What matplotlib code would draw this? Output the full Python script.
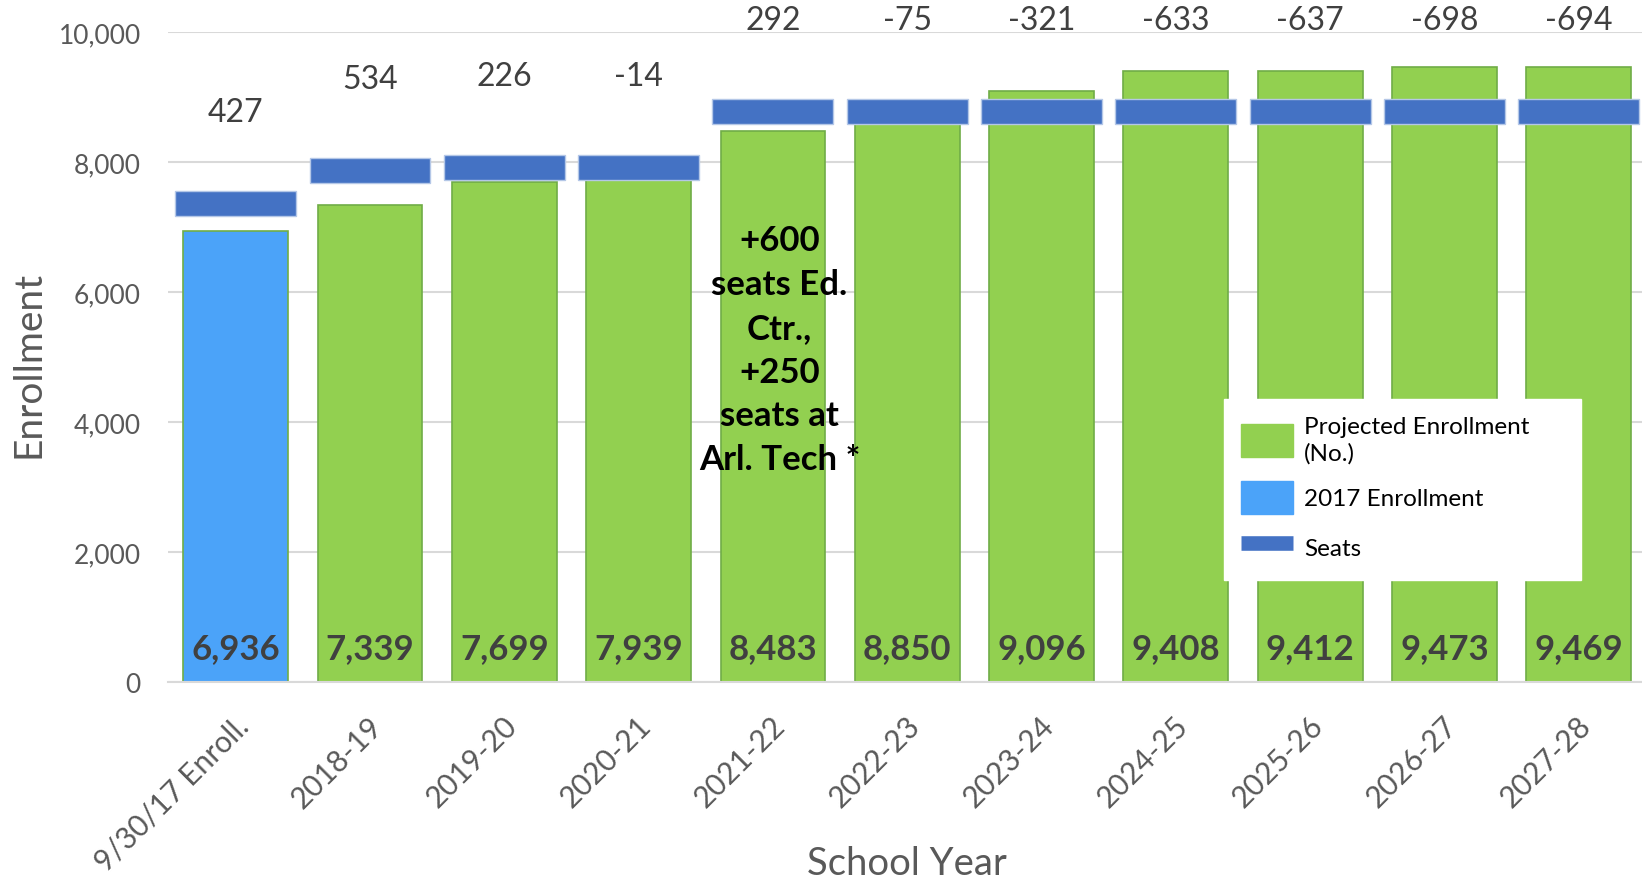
import numpy as np
import matplotlib.pyplot as plt
import matplotlib.transforms as mtransforms
from matplotlib.patches import Patch
from matplotlib.lines import Line2D

plt.rcParams['font.family'] = ['Lato', 'DejaVu Sans']

# === Data ===
years = ["9/30/17 Enroll.", "2018-19", "2019-20", "2020-21", "2021-22", "2022-23",
         "2023-24", "2024-25", "2025-26", "2026-27", "2027-28"]
enrollment = [6936, 7339, 7699, 7939, 8483, 8850, 9096, 9408, 9412, 9473, 9469]
gap = [427, 534, 226, -14, 292, -75, -321, -633, -637, -698, -694]
seats = [e + g for e, g in zip(enrollment, gap)]
note = "+600\nseats Ed.\nCtr.,\n+250\nseats at\nArl. Tech *"

GREEN = '#92D050'
GREEN_EDGE = '#70AD47'
BLUE = '#4BA3F9'
SEAT_BLUE = '#4472C4'
SEAT_EDGE = '#B4C7E7'
SEAT_THICK = 385  # thickness of the seat marker in data units

fig = plt.figure(figsize=(16.42, 8.79), dpi=100)
ax = fig.add_axes([0.1026, 0.2230, 0.8998, 0.7390])

x = np.arange(len(years))
colors = [BLUE] + [GREEN] * (len(years) - 1)
ax.bar(x, enrollment, width=0.78, color=colors, edgecolor=GREEN_EDGE, linewidth=1.2, zorder=2)

# seats drawn as thick flat markers
ax.bar(x, [SEAT_THICK] * len(x), bottom=np.array(seats) - SEAT_THICK / 2, width=0.9,
       color=SEAT_BLUE, edgecolor=SEAT_EDGE, linewidth=1, zorder=3)

# labels
for xi, e, s, g in zip(x, enrollment, seats, gap):
    ax.annotate(f"{e:,}", (xi, 0), xytext=(0, 24.5), textcoords='offset points',
                ha='center', va='center', fontsize=25, fontweight='bold', color='#404040', zorder=4)
    ax.annotate(f"{g}", (xi, s), xytext=(0, 66), textcoords='offset points',
                ha='center', va='center', fontsize=23, color='#404040', annotation_clip=False)

ax.text(x[4] + 0.05, 5116, note, ha='center', va='center', fontsize=25, fontweight='bold',
        color='black', linespacing=1.45, zorder=5)

ax.set_xlim(-0.5, len(years) - 0.5)
ax.set_ylim(0, 10000)
ax.set_yticks(np.arange(0, 10001, 2000))
ax.set_yticklabels([f"{v:,}" for v in range(0, 10001, 2000)])
ax.yaxis.grid(True, color='#D9D9D9', linewidth=1.5, zorder=0)
ax.set_axisbelow(True)
for sp in ['top', 'right', 'left']:
    ax.spines[sp].set_visible(False)
ax.spines['bottom'].set_color('#D9D9D9')
ax.spines['bottom'].set_linewidth(1.5)
ax.tick_params(axis='both', length=0, labelcolor='#595959')
ax.tick_params(axis='y', pad=20, labelsize=19)
ax.set_xticks(x)
ax.set_xticklabels(years, rotation=45, ha='right', va='center', rotation_mode='anchor')
ax.tick_params(axis='x', pad=28, labelsize=21.5)
shift = mtransforms.ScaledTranslation(8 / 100, 0, fig.dpi_scale_trans)
for lab in ax.get_xticklabels():
    lab.set_transform(lab.get_transform() + shift)

ax.set_ylabel("Enrollment", fontsize=28, color='#595959', va='center')
ax.yaxis.set_label_coords(-0.0944, 0.49)
ax.set_xlabel("School Year", fontsize=27.5, color='#595959', va='center')
ax.xaxis.set_label_coords(0.5, -0.279)

handles = [Patch(facecolor=GREEN, edgecolor=GREEN),
           Patch(facecolor=BLUE, edgecolor=BLUE),
           Line2D([], [], color=SEAT_BLUE, linewidth=10.5, solid_capstyle='butt')]
labels = ["Projected Enrollment\n(No.)", "2017 Enrollment", "Seats"]
leg = fig.legend(handles, labels, loc='upper left', mode='expand',
                 bbox_to_anchor=(0.7454, 0.3470, 0.2174, 0.1979),
                 fontsize=17.5, frameon=True, fancybox=False, edgecolor='white',
                 framealpha=1, handlelength=2.15, handleheight=1.7, labelspacing=0.7,
                 borderpad=0.7, handletextpad=0.45, borderaxespad=0)
leg.get_frame().set_facecolor('white')
for t in leg.get_texts():
    t.set_linespacing(1.3)
leg.set_zorder(10)

fig.savefig("out.png", dpi=100)
